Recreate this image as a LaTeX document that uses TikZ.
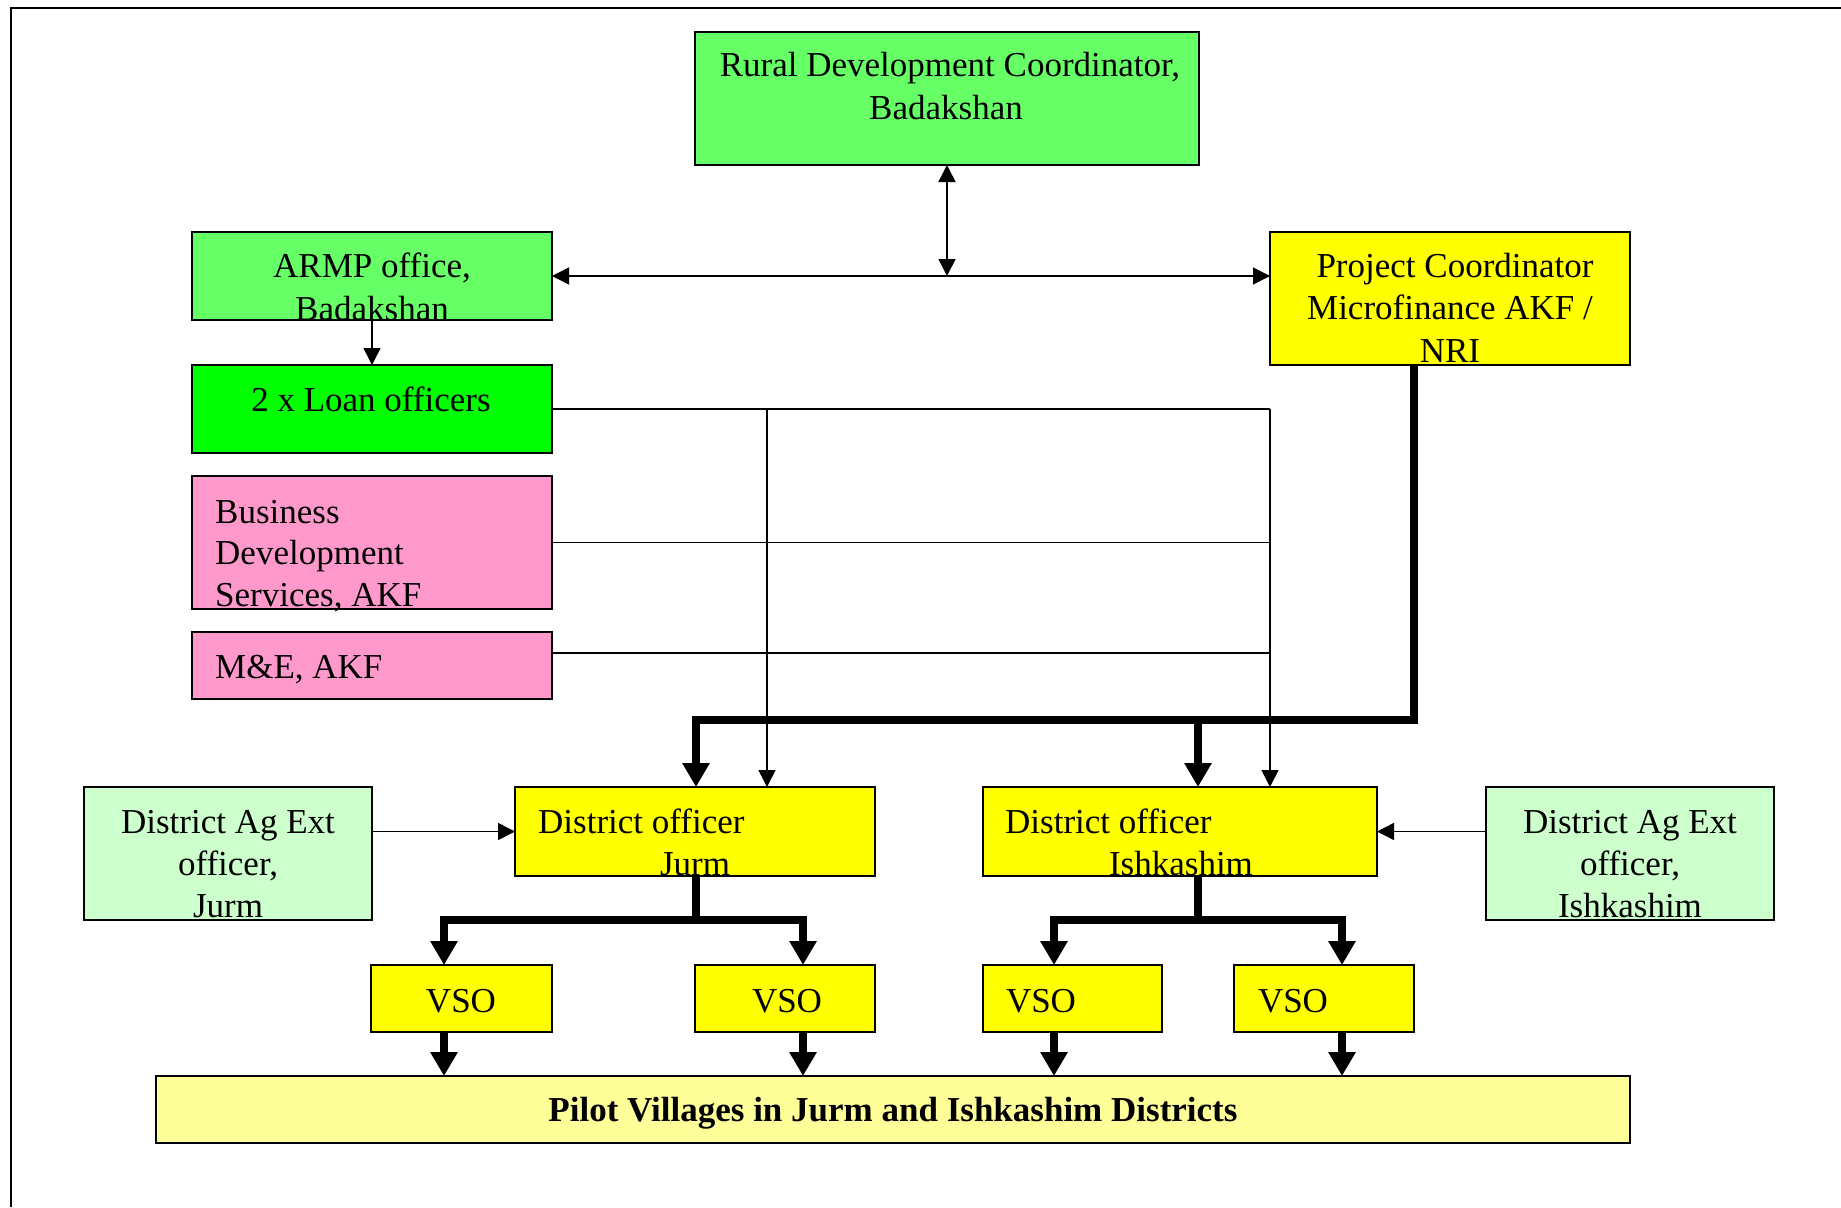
\documentclass[tikz,border=0pt]{standalone}
\usepackage{fontspec}
\setmainfont{Liberation Serif}
\usetikzlibrary{arrows.meta,calc}
\definecolor{gA}{HTML}{66FF66}
\definecolor{gB}{HTML}{00FF00}
\definecolor{pk}{HTML}{FF99CC}
\definecolor{yl}{HTML}{FFFF00}
\definecolor{lg}{HTML}{CCFFCC}
\definecolor{ly}{HTML}{FFFF99}
\begin{document}
\begin{tikzpicture}[x=1pt,y=-1pt,
  box/.style={draw=black, line width=1.8pt, inner sep=0pt, outer sep=0pt, anchor=north west},
  txt/.style={inner sep=0pt, anchor=base, font=\fontsize{35}{42}\selectfont},
  ltxt/.style={txt, anchor=base west},
  conn/.style={line width=1.5pt},
  tarrow/.style={conn, -{Triangle[length=17pt,width=17pt]}},
  tboth/.style={conn, {Triangle[length=17pt,width=17pt]}-{Triangle[length=17pt,width=17pt]}},
  thk/.style={line width=7.5pt, line join=miter},
  tkarrow/.style={thk, -{Triangle[length=24pt,width=26pt]}},
  tkboth/.style={thk, {Triangle[length=24pt,width=26pt]}-{Triangle[length=24pt,width=26pt]}}
]
\useasboundingbox (0,0) rectangle (1841,1207);
% frame
\draw[line width=1.8pt] (11,1207) -- (11,8) -- (1841,8);

% boxes
\node[box, fill=gA, minimum width=504pt, minimum height=133pt] (rural) at (695,32) {};
\node[box, fill=gA, minimum width=360pt, minimum height=88pt] (armp) at (192,232) {};
\node[box, fill=gB, minimum width=360pt, minimum height=88pt] (loan) at (192,365) {};
\node[box, fill=pk, minimum width=360pt, minimum height=133pt] (bds) at (192,476) {};
\node[box, fill=pk, minimum width=360pt, minimum height=67pt] (me) at (192,632) {};
\node[box, fill=yl, minimum width=360pt, minimum height=133pt] (pc) at (1270,232) {};
\node[box, fill=lg, minimum width=288pt, minimum height=133pt] (agj) at (84,787) {};
\node[box, fill=yl, minimum width=360pt, minimum height=89pt] (doj) at (515,787) {};
\node[box, fill=yl, minimum width=394pt, minimum height=89pt] (doi) at (983,787) {};
\node[box, fill=lg, minimum width=288pt, minimum height=133pt] (agi) at (1486,787) {};
\node[box, fill=yl, minimum width=181pt, minimum height=67pt] (vso1) at (371,965) {};
\node[box, fill=yl, minimum width=180pt, minimum height=67pt] (vso2) at (695,965) {};
\node[box, fill=yl, minimum width=179pt, minimum height=67pt] (vso3) at (983,965) {};
\node[box, fill=yl, minimum width=180pt, minimum height=67pt] (vso4) at (1234,965) {};
\node[box, fill=ly, minimum width=1474pt, minimum height=67pt] (pilot) at (156,1076) {};

% coordinates
\coordinate (hub) at (947,276);
\coordinate (jv) at (767,409);
\coordinate (iv) at (1270,409);
\coordinate (bdsr) at (1270,542.5);
\coordinate (mel) at (552,653);
\coordinate (mer) at (1270,653);
\coordinate (tkc) at (1414,720);
\coordinate (tkl) at (696,720);
\coordinate (tki) at (1198,720);
\coordinate (jb) at (696,920);
\coordinate (ib) at (1198,920);
\coordinate (d1) at (444,920);
\coordinate (d2) at (803,920);
\coordinate (d3) at (1054,920);
\coordinate (d4) at (1342,920);

% thin connectors
\draw[tboth] (rural.south) -- (hub);
\draw[tboth] (armp.east) -- (pc.west |- hub);
\draw[tarrow] (armp.south) -- (loan.north);
\draw[conn] (loan.east) -- (iv);
\draw[tarrow] (jv) -- (jv |- doj.north);
\draw[tarrow] (iv) -- (iv |- doi.north);
\draw[conn] (bds.east) -- (bdsr);
\draw[conn] (mel) -- (mer);
\draw[tarrow] (agj.east |- doj.west) -- (doj.west);
\draw[tarrow] (agi.west |- doi.east) -- (doi.east);

% thick connectors
\draw[tkarrow] (pc.south -| tkc) -- (tkc) -- (tkl) -- (tkl |- doj.north);
\draw[tkarrow] (tki) -- (tki |- doi.north);
\draw[thk] (doj.south -| jb) -- (jb);
\draw[tkboth] (d1 |- vso1.north) -- (d1) -- (d2) -- (d2 |- vso2.north);
\draw[thk] (doi.south -| ib) -- (ib);
\draw[tkboth] (d3 |- vso3.north) -- (d3) -- (d4) -- (d4 |- vso4.north);
\draw[tkarrow] (vso1.south -| d1) -- (d1 |- pilot.north);
\draw[tkarrow] (vso2.south -| d2) -- (d2 |- pilot.north);
\draw[tkarrow] (vso3.south -| d3) -- (d3 |- pilot.north);
\draw[tkarrow] (vso4.south -| d4) -- (d4 |- pilot.north);

% texts
\node[txt] (ruralA) at (950,77) {Rural Development Coordinator,};
\node[txt] (ruralB) at (946,119) {Badakshan};
\node[txt] (armpA) at (372,277) {ARMP office,};
\node[txt] (armpB) at (372,320) {Badakshan};
\node[txt] (loanA) at (371,411) {2 x Loan officers};
\node[ltxt] (bdsA) at (215,523) {Business};
\node[ltxt] (bdsB) at (215,564.5) {Development};
\node[ltxt] (bdsC) at (215,606) {Services, AKF};
\node[ltxt] (meA) at (215,678) {M\&E, AKF};
\node[txt] (pcA) at (1455,277) {Project Coordinator};
\node[txt] (pcB) at (1450,319) {Microfinance AKF /};
\node[txt] (pcC) at (1450,362) {NRI};
\node[txt] (agjA) at (228,833) {District Ag Ext};
\node[txt] (agjB) at (228,875) {officer,};
\node[txt] (agjC) at (228,917) {Jurm};
\node[txt] (agiA) at (1630,833) {District Ag Ext};
\node[txt] (agiB) at (1630,875) {officer,};
\node[txt] (agiC) at (1630,917) {Ishkashim};
\node[ltxt] (dojA) at (538,833) {District officer};
\node[txt] (dojB) at (695,875) {Jurm};
\node[ltxt] (doiA) at (1005,833) {District officer};
\node[txt] (doiB) at (1181,875) {Ishkashim};
\node[txt] (vso1t) at (461,1012) {VSO};
\node[txt] (vso2t) at (787,1012) {VSO};
\node[txt] (vso3t) at (1041,1012) {VSO};
\node[txt] (vso4t) at (1293,1012) {VSO};
\node[txt, font=\fontsize{35}{42}\selectfont\bfseries] (pilott) at (893,1121) {Pilot Villages in Jurm and Ishkashim Districts};
\end{tikzpicture}
\end{document}
